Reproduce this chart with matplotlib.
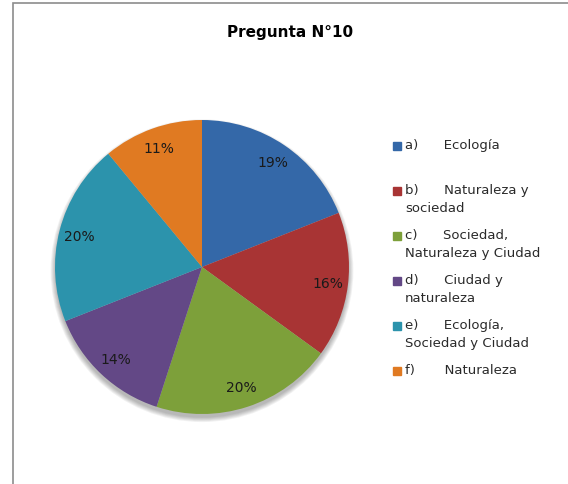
import matplotlib.pyplot as plt
from matplotlib.patches import Rectangle, Circle

# data
labels = ['a)      Ecología',
          'b)      Naturaleza y\nsociedad',
          'c)      Sociedad,\nNaturaleza y Ciudad',
          'd)      Ciudad y\nnaturaleza',
          'e)      Ecología,\nSociedad y Ciudad',
          'f)       Naturaleza']
values = [19, 16, 20, 14, 20, 11]
colors = ['#3468A8', '#A83434', '#7DA03A', '#634886', '#2C93AC', '#E07A22']

W, H = 568, 485
fig = plt.figure(figsize=(W / 100, H / 100), dpi=100)

# outer chart frame
fig.patches.append(Rectangle((13 / W, -0.1), 1.2, (H - 4) / H + 0.1,
                             transform=fig.transFigure, fill=False,
                             edgecolor='#8c8c8c', linewidth=1.2))

fig.text(290 / W, 1 - 32 / H, 'Pregunta N°10', ha='center', va='center',
         fontsize=11, fontweight='bold', family='DejaVu Sans')

# pie: centre (202, 268), radius 147 px
cx, cy, r = 202, 268, 147
ax = fig.add_axes([(cx - r) / W, (H - cy - r) / H, 2 * r / W, 2 * r / H])

# soft shadow below the pie
for k in range(6):
    ax.add_patch(Circle((0, -0.025), 1.0 + 0.006 * k, color='black',
                        alpha=0.05, linewidth=0, zorder=0))

wedges, texts, autotexts = ax.pie(values, colors=colors, startangle=90,
                                  counterclock=False, autopct='%1.0f%%',
                                  pctdistance=0.86,
                                  wedgeprops=dict(linewidth=0))
for t in autotexts:
    t.set_fontsize(10)
    t.set_color('#1a1a1a')
ax.set_xlim(-1.06, 1.06)
ax.set_ylim(-1.06, 1.06)
ax.set_position([(cx - r * 1.06) / W, (H - cy - r * 1.06) / H,
                 2 * r * 1.06 / W, 2 * r * 1.06 / H])

# legend, one entry every 45 px
for i, (lab, col) in enumerate(zip(labels, colors)):
    y = 147 + 45 * i
    fig.patches.append(Rectangle((393 / W, 1 - (y + 4) / H), 8 / W, 8 / H,
                                 transform=fig.transFigure, color=col))
    fig.text(405 / W, 1 - (y - 8) / H, lab, ha='left', va='top',
             fontsize=9.5, color='#2a2a2a', linespacing=1.5)

fig.savefig('out.png', dpi=100)
